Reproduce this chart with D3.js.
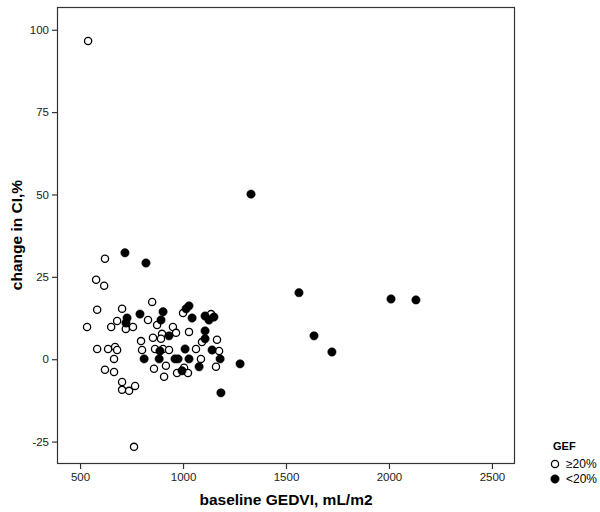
<!DOCTYPE html>
<html><head><meta charset="utf-8">
<script src="https://cdn.jsdelivr.net/npm/d3@7"></script>
<style>body{margin:0;background:#fff}svg{display:block}text{font-family:"Liberation Sans",Arial,sans-serif}</style>
</head><body><svg id="c" width="600" height="512"></svg>
<script>
const xTicks=[500,1000,1500,2000,2500];
const yTicks=[-25,0,25,50,75,100];
const groups=["≥20%","<20%"];
// GEF ≥20% (open circles): [baseline GEDVI, change in CI %]
const openX=[539,621,578,617,850,583,704,830,534,651,680,757,722,1000,874,951,966,1029,898,854,893,1136,1092,1165,796,583,636,670,680,801,864,903,932,1063,1175,665,1087,917,1160,621,665,859,1005,971,1024,908,704,704,738,767,762];
const openY=[96.6,30.5,24.1,22.3,17.4,15.0,15.3,11.9,9.8,9.8,11.6,9.8,9.2,14.0,10.4,9.8,8.0,8.3,7.7,6.5,6.2,13.7,5.2,5.9,5.5,3.1,3.1,3.7,2.8,2.8,3.1,3.1,2.8,3.1,2.5,0.1,0.1,-2.0,-2.3,-3.2,-3.9,-2.9,-2.6,-4.2,-4.2,-5.3,-6.9,-9.3,-9.6,-8.1,-26.6];
// GEF <20% (filled circles)
const fillX=[718,820,903,1029,1015,1044,728,723,791,893,932,1107,1150,1126,1107,1107,888,1010,1141,811,884,961,976,1029,1180,1277,1078,995,1184,1330,1563,2010,2131,1636,1723];
const fillY=[32.3,29.2,14.4,16.2,15.3,12.5,12.5,11.0,13.7,11.9,7.1,13.1,12.8,11.9,8.6,6.2,2.5,3.1,2.8,0.1,0.1,0.1,0.1,0.1,0.1,-1.4,-2.3,-3.5,-10.2,50.1,20.2,18.3,18.0,7.1,2.2];

const svg=d3.select("#c");
const L=57,R=515,T=7,B=464;
const x=d3.scaleLinear().domain([388,2612]).range([L,R]);
const y=d3.scaleLinear().domain([-31.8,106.9]).range([B,T]);

svg.append("rect").attr("x",L+0.5).attr("y",T+0.5).attr("width",R-L-1).attr("height",B-T-1)
  .attr("fill","none").attr("stroke","#333").attr("stroke-width",1.2);

const fmt=d=>String(d);
const xa=svg.append("g").attr("transform",`translate(0,${B})`)
  .call(d3.axisBottom(x).tickValues(xTicks).tickSize(5).tickPadding(4).tickFormat(fmt));
const ya=svg.append("g").attr("transform",`translate(${L},0)`)
  .call(d3.axisLeft(y).tickValues(yTicks).tickSize(5).tickPadding(3).tickFormat(fmt));
[xa,ya].forEach(a=>{a.select(".domain").remove();a.selectAll("line").attr("stroke","#333").attr("stroke-width",1.2);
  a.selectAll("text").attr("font-size",11.5).attr("fill","#222").style("font-family","Liberation Sans, Arial, sans-serif");});

svg.append("text").attr("x",286).attr("y",505).attr("text-anchor","middle")
  .attr("font-size",15.5).attr("font-weight","bold").text("baseline GEDVI, mL/m2");
svg.append("text").attr("transform","translate(22,235) rotate(-90)").attr("text-anchor","middle")
  .attr("font-size",15.5).attr("font-weight","bold").text("change in CI,%");

const openData=openX.map((v,i)=>[v,openY[i]]);
const fillData=fillX.map((v,i)=>[v,fillY[i]]);
svg.append("g").selectAll("circle").data(openData).join("circle")
  .attr("cx",d=>x(d[0])).attr("cy",d=>y(d[1])).attr("r",3.6)
  .attr("fill","#fff").attr("stroke","#000").attr("stroke-width",1.3);
svg.append("g").selectAll("circle").data(fillData).join("circle")
  .attr("cx",d=>x(d[0])).attr("cy",d=>y(d[1])).attr("r",4.2)
  .attr("fill","#000").attr("stroke","#000").attr("stroke-width",0.5);

// legend
const lg=svg.append("g");
lg.append("text").attr("x",553).attr("y",450).attr("font-size",11).attr("font-weight","bold").text("GEF");
groups.forEach((g,i)=>{
  const yy=464+i*15;
  lg.append("circle").attr("cx",555).attr("cy",yy).attr("r",i?4.2:3.6)
    .attr("fill",i?"#000":"#fff").attr("stroke","#000").attr("stroke-width",i?0.5:1.3);
  lg.append("text").attr("x",566).attr("y",yy+4).attr("font-size",12).text(g);
});
</script></body></html>
